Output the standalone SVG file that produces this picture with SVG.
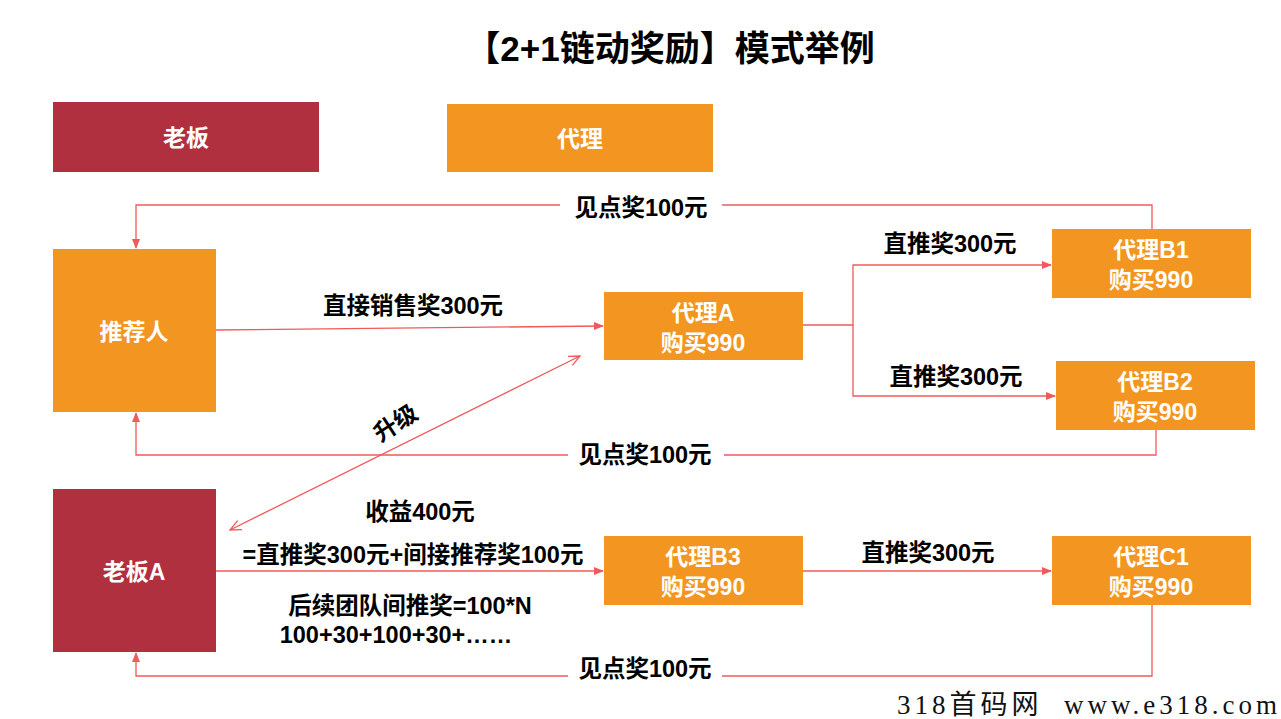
<svg xmlns="http://www.w3.org/2000/svg" width="1281" height="719" viewBox="0 0 1281 719">
<style>
text{font-family:"Liberation Sans","Noto Sans CJK SC",sans-serif;font-weight:bold;text-anchor:middle}
.o{fill:#F39621}.r{fill:#B03040}
.w{fill:#fff;font-size:23px}
.l{fill:#000;font-size:23.5px}
.c{fill:none;stroke:#F05A5A;stroke-width:1.3}
</style>
<defs>
<marker id="a" markerWidth="10" markerHeight="10" refX="9" refY="5" orient="auto" markerUnits="userSpaceOnUse"><path d="M0,1 L10,5 L0,9 Z" fill="#F05A5A"/></marker>
<marker id="v" markerWidth="12" markerHeight="12" refX="11" refY="6" orient="auto-start-reverse" markerUnits="userSpaceOnUse"><path d="M0,1 L11,6 L0,11" fill="none" stroke="#F05A5A" stroke-width="1.3"/></marker>
</defs>
<rect width="1281" height="719" fill="#fff"/>
<text x="670" y="61" style="font-size:35px" fill="#000">【2+1链动奖励】模式举例</text>
<g id="boss"><rect class="r" x="53" y="102" width="266" height="70"/><text class="w" x="186" y="146">老板</text></g>
<g id="agent"><rect class="o" x="447" y="104" width="266" height="68"/><text class="w" x="580" y="147">代理</text></g>
<g id="referrer"><rect class="o" x="53" y="249" width="163" height="163"/><text class="w" x="134" y="340">推荐人</text></g>
<g id="agentA"><rect class="o" x="604" y="292" width="199" height="68"/><text class="w" x="703" y="321">代理A</text><text class="w" x="703" y="351">购买990</text></g>
<g id="agentB1"><rect class="o" x="1052" y="229" width="199" height="69"/><text class="w" x="1151" y="258">代理B1</text><text class="w" x="1151" y="288">购买990</text></g>
<g id="agentB2"><rect class="o" x="1056" y="361" width="199" height="69"/><text class="w" x="1155" y="390">代理B2</text><text class="w" x="1155" y="420">购买990</text></g>
<g id="bossA"><rect class="r" x="53" y="489" width="163" height="163"/><text class="w" x="134" y="580">老板A</text></g>
<g id="agentB3"><rect class="o" x="604" y="536" width="199" height="69"/><text class="w" x="703" y="565">代理B3</text><text class="w" x="703" y="595">购买990</text></g>
<g id="agentC1"><rect class="o" x="1052" y="536" width="199" height="69"/><text class="w" x="1151" y="565">代理C1</text><text class="w" x="1151" y="595">购买990</text></g>
<g id="connectors">
<path class="c" d="M1152,229 V205 H722 M560,205 H136 V248" marker-end="url(#a)"/>
<path class="c" d="M216,330 L603,326" marker-end="url(#a)"/>
<path class="c" d="M803,325 H853 V265 H1051" marker-end="url(#a)"/>
<path class="c" d="M853,325 V396 H1055" marker-end="url(#a)"/>
<path class="c" d="M1156,430 V455 H724 M568,455 H136 V413" marker-end="url(#a)"/>
<path class="c" d="M230,530 L580,356" marker-start="url(#v)" marker-end="url(#v)"/>
<path class="c" d="M216,571 H603" marker-end="url(#a)"/>
<path class="c" d="M803,571 H1051" marker-end="url(#a)"/>
<path class="c" d="M1152,605 V676 H722 M568,676 H136 V653" marker-end="url(#a)"/>
</g>
<text class="l" x="641" y="216">见点奖100元</text>
<text class="l" x="413" y="314">直接销售奖300元</text>
<text class="l" x="950" y="252">直推奖300元</text>
<text class="l" x="956" y="385">直推奖300元</text>
<text class="l" x="645" y="463">见点奖100元</text>
<text class="l" transform="translate(400,430) rotate(-33)">升级</text>
<text class="l" x="420" y="520">收益400元</text>
<text class="l" x="413" y="563">=直推奖300元+间接推荐奖100元</text>
<text class="l" x="928" y="561">直推奖300元</text>
<text class="l" x="410" y="614">后续团队间推奖=100*N</text>
<text class="l" x="396" y="643">100+30+100+30+……</text>
<text class="l" x="645" y="677">见点奖100元</text>
<text x="897" y="714" textLength="380" lengthAdjust="spacing" xml:space="preserve" style="text-anchor:start;font-family:'Liberation Serif','Noto Sans CJK SC',serif;font-weight:normal;font-size:27px" fill="#111">318首码网  www.e318.com</text>
</svg>
